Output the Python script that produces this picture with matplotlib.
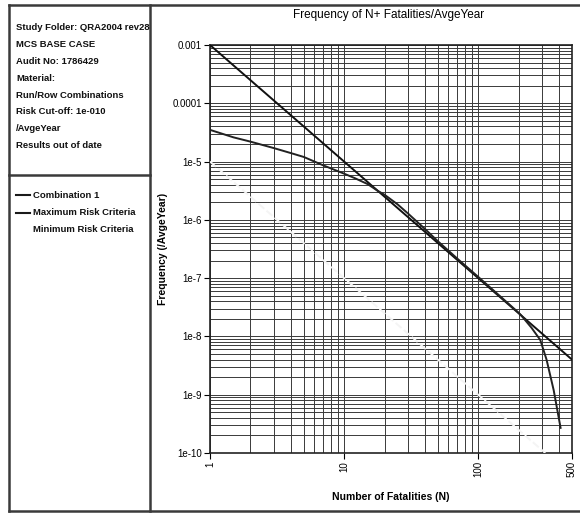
import matplotlib.pyplot as plt
from matplotlib.lines import Line2D
from matplotlib.ticker import FixedLocator, LogLocator, NullFormatter

W, H = 580, 514

# data
comb_n = [1, 1.5, 2, 3, 4, 5, 7, 10, 12, 15, 18, 20, 25, 30, 40, 50, 70,
          100, 150, 200, 210, 250, 290, 323, 365, 411]
comb_f = [3.5e-5, 2.6e-5, 2.2e-5, 1.7e-5, 1.4e-5, 1.2e-5, 8.6e-6, 6.2e-6,
          5.2e-6, 4.1e-6, 3.1e-6, 2.7e-6, 1.85e-6, 1.28e-6, 7.0e-7, 4.3e-7,
          2.15e-7, 1.05e-7, 4.6e-8, 2.55e-8, 2.27e-8, 1.4e-8, 8.7e-9, 4.0e-9,
          1.2e-9, 2.7e-10]
max_n = [1, 500]
max_f = [1e-3, 4e-9]
min_n = [1, 316]
min_f = [1e-5, 1e-10]

yticks = [1e-3, 1e-4, 1e-5, 1e-6, 1e-7, 1e-8, 1e-9, 1e-10]
ylabels = ['0.001', '0.0001', '1e-5', '1e-6', '1e-7', '1e-8', '1e-9', '1e-10']
xticks = [1, 10, 100, 500]
xlabels = ['1', '10', '100', '500']

info_lines = ['Study Folder: QRA2004 rev28', 'MCS BASE CASE', 'Audit No: 1786429',
              'Material:', 'Run/Row Combinations', 'Risk Cut-off: 1e-010',
              '/AvgeYear', 'Results out of date']
legend_names = ['Combination 1', 'Maximum Risk Criteria', 'Minimum Risk Criteria']
legend_colors = ['#1a1a1a', '#1a1a1a', 'white']

plt.rcParams['font.family'] = ['Liberation Sans', 'DejaVu Sans']


def fx(x):
    return x / W


def fy(y):
    return 1 - y / H


fig = plt.figure(figsize=(W / 100, H / 100), dpi=100)

# panel frames
frame = dict(color='#3a3a3a', lw=1.8, transform=fig.transFigure)
fig.add_artist(Line2D([fx(9), fx(580)], [fy(5), fy(5)], **frame))
fig.add_artist(Line2D([fx(9), fx(580)], [fy(511), fy(511)], **frame))
fig.add_artist(Line2D([fx(9), fx(9)], [fy(5), fy(511)], **frame))
fig.add_artist(Line2D([fx(150), fx(150)], [fy(5), fy(511)], **frame))
fig.add_artist(Line2D([fx(9), fx(150)], [fy(175), fy(175)], **frame))

# info text
for i, s in enumerate(info_lines):
    fig.text(fx(16), fy(28 + i * 16.8), s, fontsize=6.8, color='#111111',
             va='center', ha='left', fontweight='bold')

# legend entries
for i, (name, c) in enumerate(zip(legend_names, legend_colors)):
    y = fy(195 + i * 17.5)
    fig.add_artist(Line2D([fx(16), fx(30)], [y, y], color=c, lw=1.5,
                          transform=fig.transFigure))
    fig.text(fx(33), y, name, fontsize=6.8, color='#111111', va='center',
             ha='left', fontweight='bold')

ax = fig.add_axes([fx(210), fy(453), fx(572) - fx(210), (453 - 45) / H])
ax.set_xscale('log')
ax.set_yscale('log')
ax.set_xlim(1, 500)
ax.set_ylim(1e-10, 1e-3)

ax.plot(min_n, min_f, color='#f4f4f4', lw=1.4, dashes=(4, 1.5), zorder=3)
ax.plot(max_n, max_f, color='#111111', lw=1.4, zorder=3)
ax.plot(comb_n, comb_f, color='#222222', lw=1.4, zorder=3)

ax.set_axisbelow(True)
ax.yaxis.set_major_locator(FixedLocator(yticks))
ax.set_yticklabels(ylabels)
ax.yaxis.set_minor_locator(LogLocator(base=10, subs=range(2, 10), numticks=20))
ax.yaxis.set_minor_formatter(NullFormatter())
ax.xaxis.set_major_locator(FixedLocator(xticks))
ax.set_xticklabels(xlabels, rotation=90)
ax.xaxis.set_minor_locator(LogLocator(base=10, subs=range(2, 10), numticks=20))
ax.xaxis.set_minor_formatter(NullFormatter())
ax.grid(True, which='both', color='#3a3a3a', lw=0.7)
ax.tick_params(which='major', length=4, width=0.8, labelsize=7, pad=2)
ax.tick_params(which='minor', length=0)
for sp in ax.spines.values():
    sp.set_linewidth(1.2)
    sp.set_color('#222222')

fig.text(fx(389), fy(15), 'Frequency of N+ Fatalities/AvgeYear', fontsize=8.5,
         ha='center', va='center')
ax.set_xlabel('Number of Fatalities (N)', fontsize=7.5, fontweight='bold')
ax.set_ylabel('Frequency (/AvgeYear)', fontsize=7.5, fontweight='bold')
ax.xaxis.set_label_coords(0.5, (453 - 497) / 408, transform=ax.transAxes)
ax.yaxis.set_label_coords((163 - 210) / 362, 0.5, transform=ax.transAxes)
ax.xaxis.label.set_va('center')
ax.yaxis.label.set_va('center')

fig.savefig('out.png', dpi=100)
